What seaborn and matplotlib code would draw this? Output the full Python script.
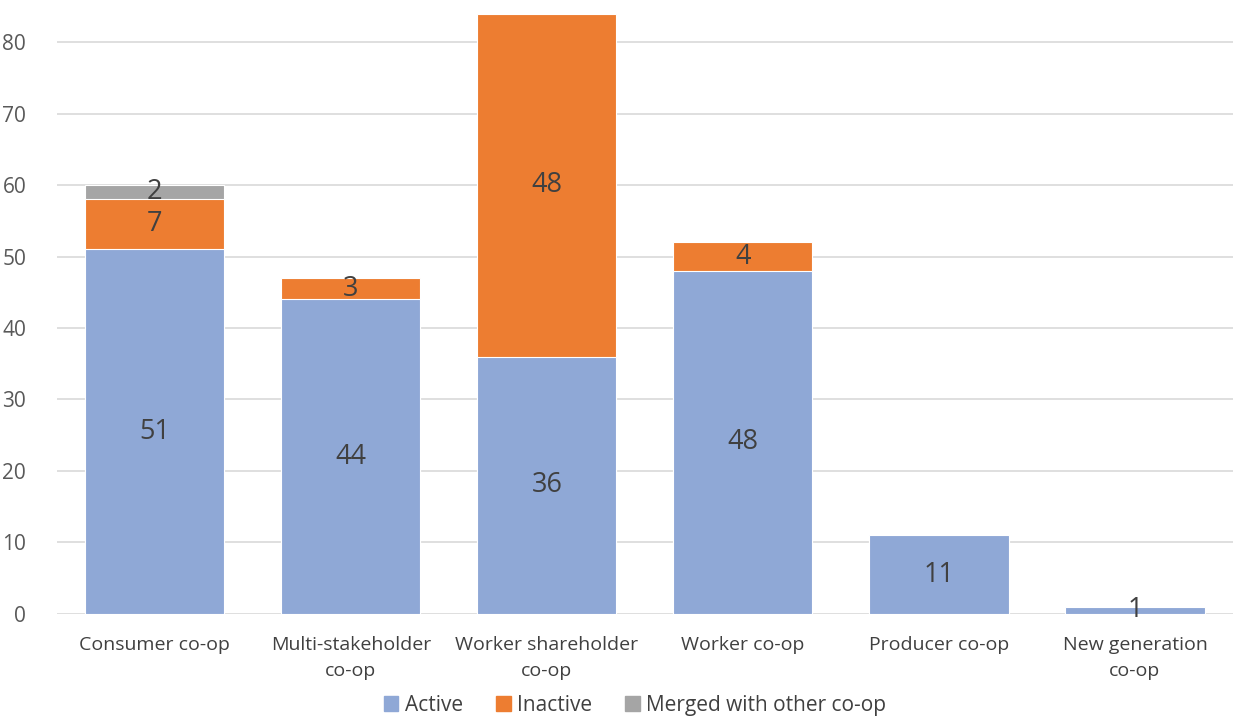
import numpy as np
import pandas as pd
import seaborn as sns
from matplotlib import pyplot as plt
from matplotlib.patches import Patch

# data
categories = ['Consumer co-op', 'Multi-stakeholder\nco-op', 'Worker shareholder\nco-op',
              'Worker co-op', 'Producer co-op', 'New generation\nco-op']
active = [51, 44, 36, 48, 11, 1]
inactive = [7, 3, 48, 4, 0, 0]
merged = [2, 0, 0, 0, 0, 0]
series_names = ['Active', 'Inactive', 'Merged with other co-op']
series_colors = ['#8FA8D6', '#ED7D31', '#A5A5A5']

sns.set_theme(style='white')
plt.rcParams['font.family'] = ['Open Sans', 'DejaVu Sans']

df = pd.DataFrame({'category': categories, 'active': active,
                   'inactive': inactive, 'merged': merged})
df['top2'] = df['active'] + df['inactive']
df['top3'] = df['top2'] + df['merged']

fig = plt.figure(figsize=(12.33, 7.23), dpi=100)
ax = fig.add_axes([0.046, 0.151, 0.954, 0.849])

#draw stacked bars from top down so each layer covers the next
for col, color in zip(['top3', 'top2', 'active'], series_colors[::-1]):
    sns.barplot(data=df, x='category', y=col, color=color, width=0.71,
                saturation=1, edgecolor='white', linewidth=0.8, ax=ax)

#segment labels
for i in range(len(categories)):
    base = 0
    for vals in [active, inactive, merged]:
        v = vals[i]
        if v > 0:
            ax.text(i, base + v / 2, str(v), ha='center', va='center',
                    fontsize=19.5, color='#404040')
        base += v

ax.set_ylim(0, 85.9)
ax.set_xlim(-0.5, len(categories) - 0.5)
ax.set_yticks(range(0, 90, 10))
ax.set_xlabel('')
ax.set_ylabel('')
ax.yaxis.grid(True, color='#D9D9D9', linewidth=1.2)
ax.set_axisbelow(True)
for s in ax.spines.values():
    s.set_visible(False)
ax.tick_params(axis='y', labelsize=15, colors='#595959', pad=22, length=0)
ax.tick_params(axis='x', labelsize=14, colors='#404040', pad=16, length=0)
for lbl in ax.get_xticklabels():
    lbl.set_linespacing(1.6)

handles = [Patch(color=c, label=n) for c, n in zip(series_colors, series_names)]
fig.legend(handles=handles, loc='lower center', bbox_to_anchor=(0.515, -0.016),
           ncol=3, frameon=False, fontsize=15, handlelength=0.7, handleheight=0.7,
           handletextpad=0.3, columnspacing=1.6, labelcolor='#404040')

plt.savefig('out.png', dpi=100)
